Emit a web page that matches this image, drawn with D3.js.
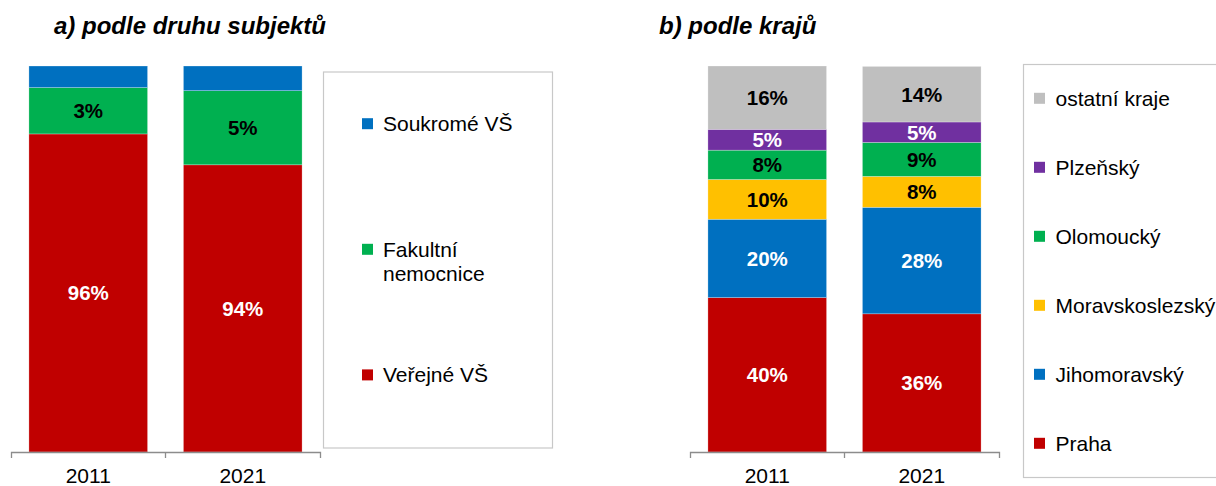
<!DOCTYPE html>
<html>
<head>
<meta charset="utf-8">
<script src="https://cdn.jsdelivr.net/npm/d3@7"></script>
<style>
  html, body { margin: 0; padding: 0; background: #fff; }
  svg { display: block; font-family: Arial, "Liberation Sans", sans-serif; }
</style>
</head>
<body>
<svg id="chart" width="1216" height="486"></svg>
<script>
// ---- data ----
const years = ["2011", "2021"];

// a) by type of institution (share in %)
const subjectKeys = ["Veřejné VŠ", "Fakultní nemocnice", "Soukromé VŠ"];
const verejneVS = [95.6, 93.6];
const fakultniNemocnice = [3.0, 4.8];
const soukromeVS = [1.4, 1.6];
const subjectLabelled = ["Veřejné VŠ", "Fakultní nemocnice"];

// b) by region (share in %)
const regionKeys = ["Praha", "Jihomoravský", "Moravskoslezský", "Olomoucký", "Plzeňský", "ostatní kraje"];
const praha = [40.0, 35.8];
const jihomoravsky = [20.3, 27.6];
const moravskoslezsky = [10.3, 8.0];
const olomoucky = [7.6, 8.8];
const plzensky = [5.4, 5.3];
const ostatniKraje = [16.4, 14.4];

const titleA = "a) podle druhu subjektů";
const titleB = "b) podle krajů";

// ---- styles ----
const colorA = { "Veřejné VŠ": "#C00000", "Fakultní nemocnice": "#00B050", "Soukromé VŠ": "#0070C0" };
const textA = { "Veřejné VŠ": "#fff", "Fakultní nemocnice": "#000", "Soukromé VŠ": "#000" };
const colorB = { "Praha": "#C00000", "Jihomoravský": "#0070C0", "Moravskoslezský": "#FFC000",
                 "Olomoucký": "#00B050", "Plzeňský": "#7030A0", "ostatní kraje": "#BFBFBF" };
const textB = { "Praha": "#fff", "Jihomoravský": "#fff", "Moravskoslezský": "#000",
                "Olomoucký": "#000", "Plzeňský": "#fff", "ostatní kraje": "#000" };

const rowsA = years.map((y, i) => ({ year: y, "Veřejné VŠ": verejneVS[i],
  "Fakultní nemocnice": fakultniNemocnice[i], "Soukromé VŠ": soukromeVS[i] }));
const rowsB = years.map((y, i) => ({ year: y, "Praha": praha[i], "Jihomoravský": jihomoravsky[i],
  "Moravskoslezský": moravskoslezsky[i], "Olomoucký": olomoucky[i], "Plzeňský": plzensky[i],
  "ostatní kraje": ostatniKraje[i] }));

const svg = d3.select("#chart");
const fmt = v => d3.format(".0f")(v) + "%";
const plotTop = 66, plotBottom = 452;

function panel(opts) {
  const g = svg.append("g");
  const x = d3.scaleBand().domain(years).range([opts.x0, opts.x0 + 309])
    .paddingInner(0.232).paddingOuter(0.116);
  const y = d3.scaleLinear().domain(opts.yDomain).range([plotBottom, plotTop]);
  const series = d3.stack().keys(opts.keys)(opts.rows);
  const yMin = opts.yDomain[0];

  const layer = g.selectAll("g.series").data(series).join("g").attr("fill", d => opts.colors[d.key]);
  layer.selectAll("rect").data(d => d).join("rect")
    .attr("x", d => x(d.data.year))
    .attr("width", x.bandwidth())
    .attr("y", d => y(d[1]))
    .attr("height", d => y(Math.max(d[0], yMin)) - y(d[1]))
    .attr("stroke", "rgba(255,255,255,0.45)")
    .attr("stroke-width", 0.6);

  layer.filter(d => opts.labelled.includes(d.key))
    .selectAll("text").data(d => d.map(v => ({ v, key: d.key }))).join("text")
    .attr("x", d => x(d.v.data.year) + x.bandwidth() / 2)
    .attr("y", d => (y(Math.max(d.v[0], yMin)) + y(d.v[1])) / 2)
    .attr("dy", "0.36em")
    .attr("text-anchor", "middle")
    .attr("font-size", 20.5)
    .attr("font-weight", "bold")
    .attr("fill", d => opts.textColors[d.key])
    .text(d => fmt(d.v[1] - d.v[0]));

  // category axis with separators at band edges
  const axis = d3.axisBottom(x).tickSize(0).tickSizeOuter(6).tickPadding(0);
  const ax = g.append("g").attr("transform", `translate(0,${plotBottom})`).call(axis);
  ax.select(".domain").attr("stroke", "#8c8c8c").attr("stroke-width", 1.3);
  ax.selectAll(".tick text").attr("font-size", 21).attr("fill", "#000")
    .attr("font-family", "Arial, 'Liberation Sans', sans-serif").attr("dy", 0).attr("y", 31);
  ax.append("line").attr("x1", opts.x0 + x.step()).attr("x2", opts.x0 + x.step())
    .attr("y1", 0).attr("y2", 6).attr("stroke", "#8c8c8c").attr("stroke-width", 1.3);

  svg.append("text").attr("x", opts.titleX).attr("y", 34)
    .attr("font-size", 24).attr("font-weight", "bold").attr("font-style", "italic")
    .text(opts.title);

  // legend
  const lg = svg.append("g");
  lg.append("rect").attr("x", opts.legend.x).attr("y", opts.legend.y)
    .attr("width", opts.legend.w).attr("height", opts.legend.h)
    .attr("fill", "#fff").attr("stroke", "#c8c8c8").attr("stroke-width", 1.2);
  const items = lg.selectAll("g.item").data(opts.legend.order).join("g")
    .attr("transform", (d, i) => `translate(${opts.legend.mx},${opts.legend.cy0 + i * opts.legend.dy})`);
  items.append("rect").attr("x", 0).attr("y", -5.5).attr("width", 11).attr("height", 11)
    .attr("fill", d => opts.colors[d]);
  items.append("text").attr("x", opts.legend.tx).attr("font-size", 21).attr("fill", "#000")
    .each(function (d) {
      const lines = (opts.legend.lines && opts.legend.lines[d]) || [d];
      const t = d3.select(this);
      lines.forEach((ln, j) => t.append("tspan").attr("x", opts.legend.tx)
        .attr("y", 7.5 + j * 24).text(ln));
    });
}

panel({
  x0: 11, rows: rowsA, keys: subjectKeys, yDomain: [75, 100],
  colors: colorA, textColors: textA, labelled: subjectLabelled,
  title: titleA, titleX: 54,
  legend: { x: 323.5, y: 72, w: 229, h: 376, mx: 362, tx: 21, cy0: 123.7, dy: 125.6,
            order: ["Soukromé VŠ", "Fakultní nemocnice", "Veřejné VŠ"],
            lines: { "Fakultní nemocnice": ["Fakultní", "nemocnice"] } }
});

panel({
  x0: 690, rows: rowsB, keys: regionKeys, yDomain: [0, 100],
  colors: colorB, textColors: textB, labelled: regionKeys,
  title: titleB, titleX: 659,
  legend: { x: 1023.5, y: 64.5, w: 230, h: 413, mx: 1034, tx: 21.5, cy0: 98.3, dy: 69,
            order: regionKeys.slice().reverse() }
});
</script>
</body>
</html>
